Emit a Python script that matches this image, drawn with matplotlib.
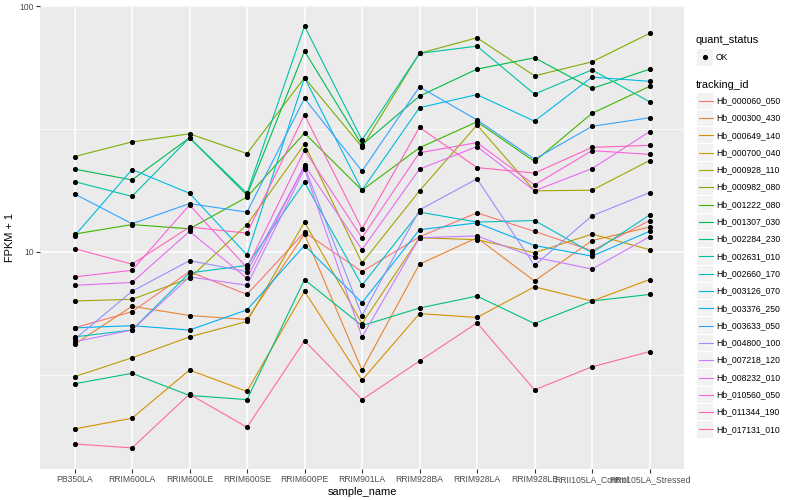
import matplotlib
matplotlib.use('Agg')
import matplotlib.pyplot as plt
from matplotlib.lines import Line2D
from matplotlib.patches import Rectangle
from matplotlib.ticker import FixedLocator, NullFormatter
import numpy as np

plt.rcParams['font.family'] = ['Liberation Sans', 'DejaVu Sans']

samples = ['PB350LA', 'RRIM600LA', 'RRIM600LE', 'RRIM600SE', 'RRIM600PE',
           'RRIM901LA', 'RRIM928BA', 'RRIM928LA', 'RRIM928LE',
           'RRII105LA_Control', 'RRII105LA_Stressed']

tracking_ids = ['Hb_000060_050', 'Hb_000300_430', 'Hb_000649_140', 'Hb_000700_040',
                'Hb_000928_110', 'Hb_000982_080', 'Hb_001222_080', 'Hb_001307_030',
                'Hb_002284_230', 'Hb_002631_010', 'Hb_002660_170', 'Hb_003126_070',
                'Hb_003376_250', 'Hb_003633_050', 'Hb_004800_100', 'Hb_007218_120',
                'Hb_008232_010', 'Hb_010560_050', 'Hb_011344_190', 'Hb_017131_010']

# ggplot default hue palette, 20 levels
colours = ['#F8766D', '#EA8331', '#D89000', '#C09B00', '#A3A500', '#7CAE00',
           '#39B600', '#00BB4E', '#00BF7D', '#00C1A3', '#00BFC4', '#00BAE0',
           '#00B0F6', '#35A2FF', '#9590FF', '#C77CFF', '#E76BF3', '#FA62DB',
           '#FF62BC', '#FF6C91']

# FPKM + 1, one value per sample
hb_000060_050 = [4.9, 5.7, 8.3, 6.7, 12.0, 8.3, 11.5, 14.4, 12.1, 10.1, 13.4]
hb_000300_430 = [4.2, 6.0, 5.5, 5.3, 11.8, 3.3, 8.9, 11.4, 7.6, 11.1, 12.6]
hb_000649_140 = [1.9, 2.1, 3.3, 2.7, 6.9, 3.0, 5.6, 5.4, 7.2, 6.3, 7.7]
hb_000700_040 = [3.1, 3.7, 4.5, 5.2, 13.2, 5.1, 11.4, 11.2, 9.9, 11.8, 10.2]
hb_000928_110 = [6.3, 6.4, 7.8, 12.9, 27.4, 9.0, 17.7, 32.8, 17.7, 17.8, 23.5]
hb_000982_080 = [24.4, 28.0, 30.2, 25.1, 51.1, 26.7, 64.2, 74.3, 52.0, 59.3, 77.4]
hb_001222_080 = [11.8, 12.9, 12.4, 16.7, 30.4, 17.8, 26.5, 33.8, 23.3, 36.6, 47.1]
hb_001307_030 = [21.7, 19.6, 29.1, 17.0, 65.6, 27.2, 43.0, 55.4, 61.6, 46.2, 55.3]
hb_002284_230 = [2.9, 3.2, 2.6, 2.5, 7.7, 5.0, 5.9, 6.6, 5.1, 6.3, 6.7]
hb_002631_010 = [19.3, 16.8, 29.1, 17.3, 82.9, 28.5, 64.2, 68.7, 43.8, 55.0, 40.8]
hb_002660_170 = [4.5, 4.8, 8.2, 8.8, 19.2, 7.3, 14.5, 13.2, 13.4, 9.9, 14.1]
hb_003126_070 = [11.6, 21.6, 17.3, 9.7, 51.1, 17.8, 38.6, 43.6, 34.0, 51.4, 49.4]
hb_003376_250 = [4.9, 5.0, 4.8, 5.8, 10.6, 6.2, 12.3, 13.1, 10.6, 9.6, 12.1]
hb_003633_050 = [17.2, 13.0, 15.7, 14.5, 42.1, 21.3, 46.9, 34.4, 23.8, 32.4, 35.1]
hb_004800_100 = [4.4, 6.9, 9.2, 8.3, 22.2, 5.5, 14.8, 19.8, 8.8, 14.0, 17.4]
hb_007218_120 = [4.3, 4.8, 7.9, 7.3, 21.7, 4.5, 11.4, 11.6, 9.5, 8.5, 11.5]
hb_008232_010 = [7.3, 7.5, 12.1, 7.8, 22.5, 10.2, 21.7, 26.8, 17.7, 21.8, 30.8]
hb_010560_050 = [7.9, 8.4, 15.5, 8.6, 25.9, 11.4, 25.3, 27.8, 18.7, 25.8, 24.9]
hb_011344_190 = [10.3, 8.9, 12.6, 11.9, 36.1, 12.4, 32.1, 22.0, 20.9, 26.6, 27.1]
hb_017131_010 = [1.65, 1.59, 2.63, 1.93, 4.34, 2.50, 3.59, 5.13, 2.74, 3.40, 3.92]

fpkm = [hb_000060_050, hb_000300_430, hb_000649_140, hb_000700_040, hb_000928_110,
        hb_000982_080, hb_001222_080, hb_001307_030, hb_002284_230, hb_002631_010,
        hb_002660_170, hb_003126_070, hb_003376_250, hb_003633_050, hb_004800_100,
        hb_007218_120, hb_008232_010, hb_010560_050, hb_011344_190, hb_017131_010]

W, H = 800, 500
fig = plt.figure(figsize=(W / 100, H / 100), dpi=100)
ax = fig.add_axes([40 / W, 1 - 469 / H, 644 / W, 464 / H])
ax.set_facecolor('#EBEBEB')

x = np.arange(len(samples))
for vals, col in zip(fpkm, colours):
    ax.plot(x, vals, color=col, lw=0.8, zorder=2)
for vals in fpkm:
    ax.plot(x, vals, ls='none', marker='o', ms=2.7, mec='black', mfc='black', zorder=3)

ax.set_yscale('log')
allv = np.log10(np.concatenate([np.array(v) for v in fpkm]))
lo, hi = allv.min(), allv.max()
pad = 0.05 * (hi - lo)
ax.set_ylim(10 ** (lo - pad), 10 ** (hi + pad))
ax.set_xlim(-0.6, len(samples) - 0.4)

ax.yaxis.set_major_locator(FixedLocator([10, 100]))
ax.set_yticklabels(['10', '100'])
ax.yaxis.set_minor_locator(FixedLocator([10 ** 0.5, 10 ** 1.5]))
ax.yaxis.set_minor_formatter(NullFormatter())
ax.set_xticks(x)
ax.set_xticklabels(samples)

ax.grid(which='major', color='white', lw=1.1)
ax.grid(which='minor', axis='y', color='white', lw=0.55)
ax.set_axisbelow(True)
for s in ax.spines.values():
    s.set_visible(False)
ax.tick_params(which='major', length=2.8, width=0.8, color='#333333',
               labelsize=6.2, labelcolor='#4D4D4D', pad=1.5)
ax.tick_params(which='minor', length=0)

ax.set_xlabel('sample_name', fontsize=7.9, labelpad=2)
ax.set_ylabel('FPKM + 1', fontsize=7.9, labelpad=3)


def fx(px):
    return px / W


def fy(py):
    return 1 - py / H


# legend: quant_status
fig.text(fx(696), fy(40), 'quant_status', fontsize=7.9, va='center', ha='left')
fig.add_artist(Rectangle((fx(696.5), fy(65.5)), 16.3 / W, 16.3 / H,
                         transform=fig.transFigure, fc='#F2F2F2', ec='none'))
fig.add_artist(Line2D([fx(704.6)], [fy(57.3)], transform=fig.transFigure,
                      marker='o', ms=2.7, color='black', ls='none'))
fig.text(fx(716), fy(57.3), 'OK', fontsize=6.2, va='center', ha='left')

# legend: tracking_id
fig.text(fx(696), fy(84.5), 'tracking_id', fontsize=7.9, va='center', ha='left')
step = 17.3
for i, (tid, col) in enumerate(zip(tracking_ids, colours)):
    yc = 100.7 + i * step
    fig.add_artist(Rectangle((fx(696.5), fy(yc + 8.15)), 16.3 / W, 16.3 / H,
                             transform=fig.transFigure, fc='#F2F2F2', ec='none'))
    fig.add_artist(Line2D([fx(698.5), fx(712.5)], [fy(yc), fy(yc)],
                          transform=fig.transFigure, color=col, lw=0.8))
    fig.text(fx(716), fy(yc), tid, fontsize=6.2, va='center', ha='left')

fig.savefig('out.png', dpi=100)
